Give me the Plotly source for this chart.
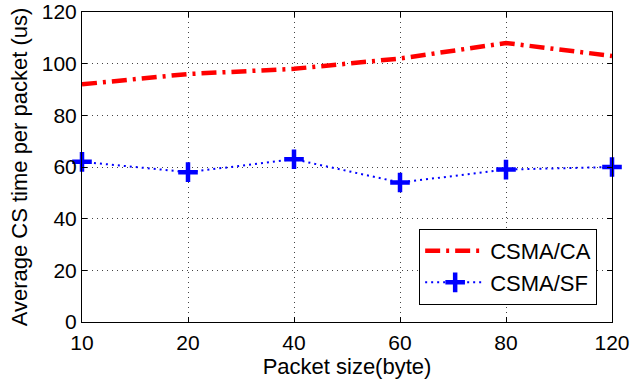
import plotly.graph_objects as go

packet_sizes = ["10", "20", "40", "60", "80", "120"]
csma_ca = [92, 96, 98, 102, 108, 103]
csma_sf = [62, 58, 63, 54, 59, 60]
y_ticks = [0, 20, 40, 60, 80, 100, 120]

FONT = "Liberation Sans, Arial, Helvetica, sans-serif"

fig = go.Figure()
fig.add_trace(go.Scatter(
    x=packet_sizes, y=csma_ca, name="CSMA/CA", mode="lines",
    line=dict(color="#ff0000", width=4.5, dash="15px,6px,3px,6px"),
    cliponaxis=False,
))
fig.add_trace(go.Scatter(
    x=packet_sizes, y=csma_sf, name="CSMA/SF", mode="lines+markers",
    line=dict(color="#0000ff", width=2, dash="2px,4px"),
    marker=dict(symbol="cross-thin", size=14, color="#0000ff",
                line=dict(color="#0000ff", width=4.5)),
    cliponaxis=False,
))

axis_common = dict(
    showline=True, linecolor="black", linewidth=1, mirror="ticks",
    ticks="inside", ticklen=5, tickcolor="black",
    showgrid=True, gridcolor="#444", griddash="1px,4px", gridwidth=1,
    zeroline=False, automargin=False,
    tickfont=dict(family=FONT, size=21, color="black"),
    title_font=dict(family=FONT, size=22, color="black"),
)

fig.update_xaxes(
    type="category", categoryorder="array", categoryarray=packet_sizes,
    range=[0, 5], title_text="Packet size(byte)", title_standoff=3,
    ticklabelstandoff=2,
    **axis_common,
)
fig.update_yaxes(
    range=[0, 120], tickvals=y_ticks, title_text="Average CS time per packet (us)",
    title_standoff=8,
    **axis_common,
)

fig.update_layout(
    width=632, height=380,
    margin=dict(l=82, r=20, t=12, b=58),
    paper_bgcolor="white", plot_bgcolor="white",
    font=dict(family=FONT, size=22, color="black"),
    legend=dict(
        x=0.972, y=0.055, xanchor="right", yanchor="bottom",
        bgcolor="white", bordercolor="black", borderwidth=1,
        font=dict(family=FONT, size=22, color="black"),
        tracegroupgap=0, itemwidth=60,
    ),
)

fig.write_html(
    "out.html",
    config={"displayModeBar": False},
    post_script="document.body.style.margin='0';document.body.style.overflow='hidden';",
)
